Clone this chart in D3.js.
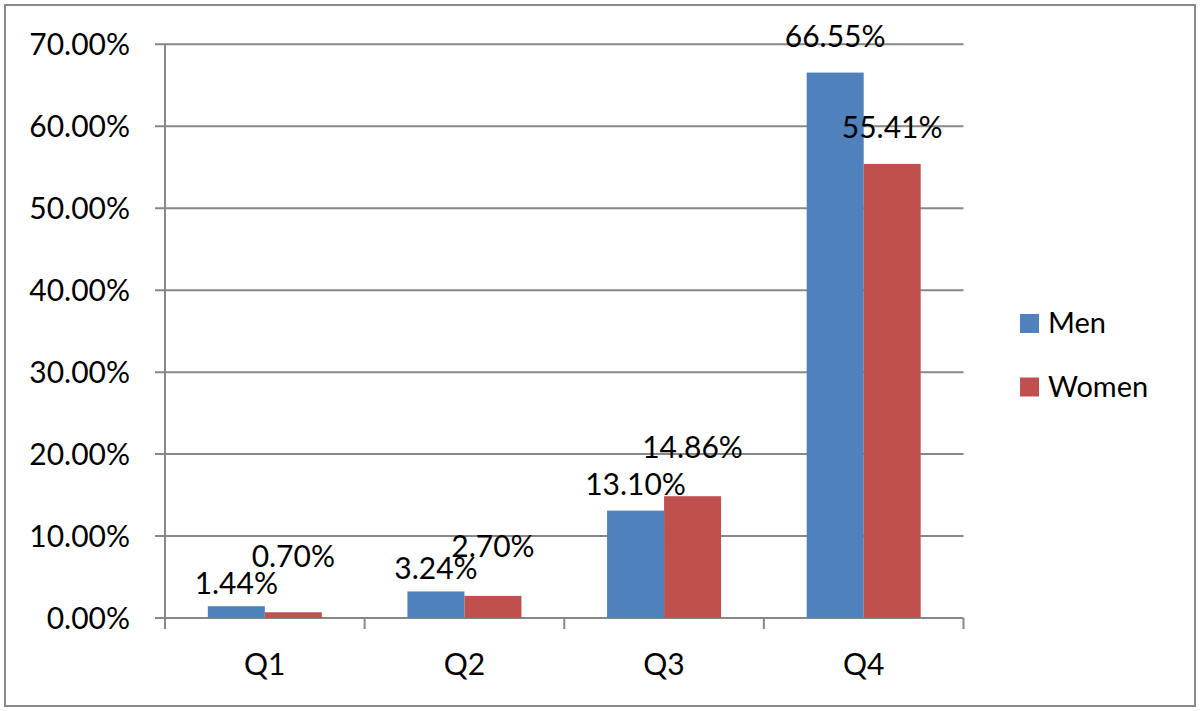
<!DOCTYPE html>
<html>
<head>
<meta charset="utf-8">
<script src="https://cdn.jsdelivr.net/npm/d3@7"></script>
<style>
  html, body { margin: 0; padding: 0; background: #fff; }
  svg { display: block; font-family: Lato, "Open Sans", sans-serif; }
</style>
</head>
<body>
<svg id="chart" width="1200" height="711"></svg>
<script>
const categories = ["Q1", "Q2", "Q3", "Q4"];
const seriesNames = ["Men", "Women"];
const menValues = [1.44, 3.24, 13.10, 66.55];
const womenValues = [0.70, 2.70, 14.86, 55.41];
const yTicks = [0, 10, 20, 30, 40, 50, 60, 70];
const colors = ["#4F81BD", "#C0504D"];
// vertical lift (px) of each data label above its bar top, per series
const menLabelLift = [12.5, 12, 15.5, 26];
const womenLabelLift = [45, 39, 38, 26];

(function () {
const svg = d3.select("#chart");
const pLeft = 165, pRight = 963.5, pTop = 44.3, pBottom = 618;
const gridColor = "#878787";

// outer border
svg.append("rect").attr("x", 5).attr("y", 5).attr("width", 1190).attr("height", 701)
  .attr("fill", "none").attr("stroke", "#898989").attr("stroke-width", 2);

const y = d3.scaleLinear().domain([0, 70]).range([pBottom, pTop]);
const x = d3.scaleBand().domain(categories).range([pLeft, pRight]).paddingInner(0).paddingOuter(0);

// gridlines
svg.append("g").selectAll("line").data(yTicks).join("line")
  .attr("x1", pLeft - 10).attr("x2", pRight)
  .attr("y1", d => y(d)).attr("y2", d => y(d))
  .attr("stroke", gridColor).attr("stroke-width", 2);

// y axis labels
svg.append("g").selectAll("text").data(yTicks).join("text")
  .attr("x", 130).attr("y", d => y(d)).attr("dy", "0.36em")
  .attr("text-anchor", "end").attr("font-size", 30).attr("fill", "#000")
  .text(d => d3.format(".2f")(d) + "%");

// y axis line
svg.append("line").attr("x1", pLeft).attr("x2", pLeft).attr("y1", pTop).attr("y2", pBottom + 11)
  .attr("stroke", gridColor).attr("stroke-width", 2);

// category ticks
const bounds = categories.map(c => x(c) + x.bandwidth());
svg.append("g").selectAll("line").data(bounds).join("line")
  .attr("x1", d => d).attr("x2", d => d).attr("y1", pBottom).attr("y2", pBottom + 11)
  .attr("stroke", gridColor).attr("stroke-width", 2);

// category labels
svg.append("g").selectAll("text").data(categories).join("text")
  .attr("x", d => x(d) + x.bandwidth() / 2).attr("y", 664).attr("dy", "0.36em")
  .attr("text-anchor", "middle").attr("font-size", 30).attr("fill", "#000")
  .text(d => d);

const barW = 57;
const offset = (x.bandwidth() - 2 * barW) / 2;
const series = [menValues, womenValues];
const lifts = [menLabelLift, womenLabelLift];
series.forEach((vals, si) => {
  svg.append("g").selectAll("rect").data(vals).join("rect")
    .attr("x", (d, i) => x(categories[i]) + offset + si * barW)
    .attr("y", d => y(d))
    .attr("width", barW)
    .attr("height", d => pBottom - y(d))
    .attr("fill", colors[si]);
});
series.forEach((vals, si) => {
  svg.append("g").selectAll("text").data(vals).join("text")
    .attr("x", (d, i) => x(categories[i]) + offset + si * barW + barW / 2)
    .attr("y", (d, i) => y(d) - lifts[si][i])
    .attr("text-anchor", "middle").attr("font-size", 30).attr("fill", "#000")
    .text(d => d3.format(".2f")(d) + "%");
});

// legend
const legend = svg.append("g");
seriesNames.forEach((name, i) => {
  const ly = 314 + i * 63.5;
  legend.append("rect").attr("x", 1020).attr("y", ly).attr("width", 19).attr("height", 19).attr("fill", colors[i]);
  legend.append("text").attr("x", 1048).attr("y", ly + 19).attr("font-size", 29).attr("fill", "#000").text(name);
});
})();
</script>
</body>
</html>
